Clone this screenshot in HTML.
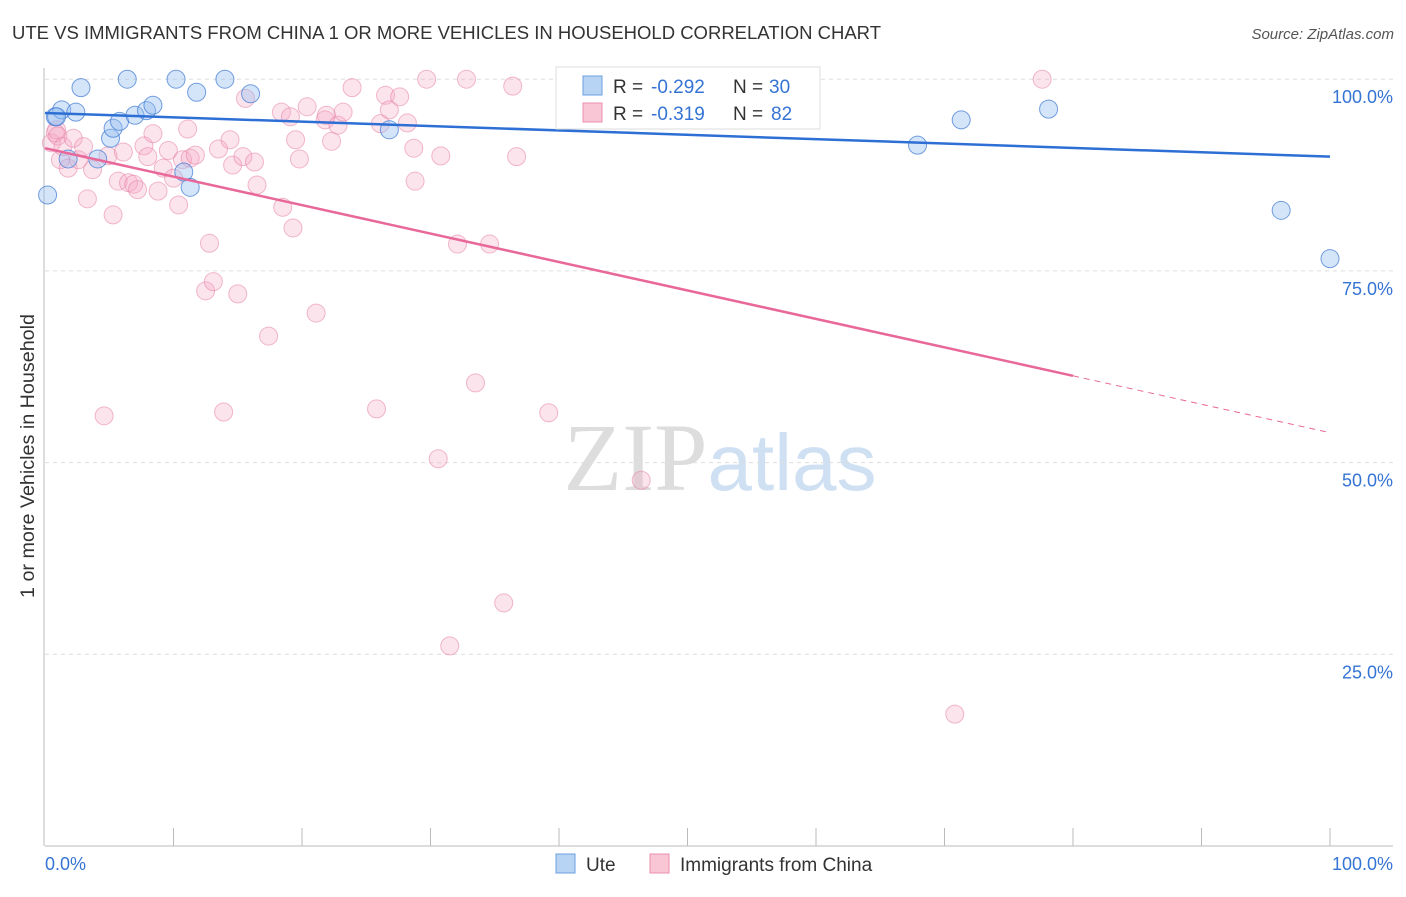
<!DOCTYPE html>
<html><head><meta charset="utf-8"><style>
body{margin:0;background:#fff;font-family:"Liberation Sans",sans-serif}
</style></head><body>
<svg id="c" width="1406" height="892" xmlns="http://www.w3.org/2000/svg" font-family="Liberation Sans, sans-serif">
<text x="12" y="39" font-size="18" fill="#333" textLength="869" lengthAdjust="spacingAndGlyphs">UTE VS IMMIGRANTS FROM CHINA 1 OR MORE VEHICLES IN HOUSEHOLD CORRELATION CHART</text>
<text x="1394" y="39" font-size="15" fill="#555" font-style="italic" text-anchor="end">Source: ZipAtlas.com</text>
<text x="720" y="490" font-size="96" text-anchor="middle"><tspan fill="#ddd" font-family="Liberation Serif, serif">ZIP</tspan><tspan fill="#cfe0f3" font-size="80">atlas</tspan></text>
<text transform="translate(34,456) rotate(-90)" font-size="19" fill="#333" text-anchor="middle" textLength="284" lengthAdjust="spacingAndGlyphs">1 or more Vehicles in Household</text>
<g id="axes"></g><g id="marks"></g>
<g>
<rect x="556" y="67" width="264" height="62" fill="#fff" stroke="#ddd"/>
<rect x="583" y="76" width="19" height="19" fill="#b8d4f5" stroke="#6a9fe0"/>
<text x="613" y="93" font-size="19" fill="#333">R =</text>
<text x="651" y="93" font-size="19" fill="#3574d4">-0.292</text>
<text x="733" y="93" font-size="19" fill="#333">N =</text>
<text x="769" y="93" font-size="19" fill="#3574d4">30</text>
<rect x="583" y="103" width="19" height="19" fill="#f9c6d6" stroke="#ec8fae"/>
<text x="613" y="120" font-size="19" fill="#333">R =</text>
<text x="651" y="120" font-size="19" fill="#3574d4">-0.319</text>
<text x="733" y="120" font-size="19" fill="#333">N =</text>
<text x="771" y="120" font-size="19" fill="#3574d4">82</text>
</g>
<g>
<rect x="556" y="854" width="19" height="19" fill="#b8d4f5" stroke="#6a9fe0"/>
<text x="586" y="871" font-size="19" fill="#333">Ute</text>
<rect x="650" y="854" width="19" height="19" fill="#f9c6d6" stroke="#ec8fae"/>
<text x="680" y="871" font-size="19" fill="#333">Immigrants from China</text>
</g>
</svg>
<script>
const yTicks=[25,50,75,100];
const yTickLabels=["25.0%","50.0%","75.0%","100.0%"];
const uteX=[0.2,0.8,1.3,1.8,2.4,2.8,4.1,5.1,5.3,5.8,6.4,7.0,7.9,8.4,10.2,10.8,11.3,11.8,14.0,16.0,26.8,42.6,52.5,56.7,67.9,71.3,78.1,96.2,100,0.9];
const uteY=[84.9,95.1,96.0,89.6,95.7,98.9,89.6,92.3,93.6,94.5,100,95.3,95.9,96.6,100,87.9,85.9,98.3,100,98.1,93.4,99.6,100,100,91.4,94.7,96.1,82.9,76.6,95.1];
const chinaX=[0.5,0.8,0.9,1.0,1.2,1.4,1.8,2.2,2.6,3.0,3.3,3.7,4.6,4.9,5.3,5.7,6.1,6.5,6.9,7.2,7.7,8.0,8.4,8.8,9.2,9.6,10.0,10.4,10.7,11.1,11.3,11.7,12.5,12.8,13.1,13.5,13.9,14.4,14.6,15.0,15.4,15.6,16.3,16.5,17.4,18.4,18.5,19.1,19.3,19.5,19.8,20.4,21.1,21.8,21.9,22.3,22.8,23.2,23.9,25.8,26.1,26.5,26.8,27.6,28.2,28.7,28.8,29.7,30.6,30.8,31.5,32.1,32.8,33.5,34.6,35.7,36.4,36.7,39.2,40.9,46.4,70.8,77.6];
const chinaY=[91.7,93.0,93.4,92.6,89.5,91.2,88.4,92.3,89.5,91.2,84.4,88.2,56.1,90.0,82.3,86.7,90.5,86.5,86.3,85.6,91.3,89.9,92.9,85.4,88.4,90.7,87.1,83.6,89.5,93.5,89.7,90.1,72.4,78.6,73.6,90.9,56.6,92.1,88.8,72.0,89.9,97.5,89.2,86.2,66.5,95.7,83.3,95.1,80.6,92.1,89.6,96.4,69.5,94.7,95.3,91.9,94.0,95.7,98.9,57.0,94.2,97.9,96.0,97.7,94.3,91.0,86.7,100,50.5,90.0,26.1,78.5,100,60.4,78.5,31.7,99.1,89.9,56.5,100,47.7,17.2,100];
const uteTrend=[95.6,89.9];
const chinaTrend=[91.0,53.9];
const chinaSolidEnd=80;
const NS="http://www.w3.org/2000/svg";
const sx=v=>45+v*12.85, sy=v=>846-v*7.668;
function mk(t,a,p){const e=document.createElementNS(NS,t);for(const k in a)e.setAttribute(k,a[k]);p.appendChild(e);return e;}
const ax=document.getElementById('axes'), mg=document.getElementById('marks');
yTicks.forEach((t,i)=>{
 const g=mk('line',{x1:45,x2:1393,y1:sy(t),y2:sy(t),stroke:'#ddd','stroke-dasharray':'4,4'},ax);
 
 
 const l=mk('text',{x:1393,y:sy(t)+24,'font-size':18,fill:'#3574d4','text-anchor':'end'},ax);
 l.textContent=yTickLabels[i];
 
 
});
const xa=mk('line',{x1:45,x2:1393,y1:846,y2:846,stroke:'#bbb'},ax);


const ya=mk('line',{x1:44,x2:44,y1:68,y2:846,stroke:'#bbb'},ax);


for(let i=1;i<=10;i++){const t=mk('line',{x1:sx(i*10),x2:sx(i*10),y1:828,y2:846,stroke:'#bbb'},ax);
 
 }
const x0=mk('text',{x:45,y:870,'font-size':18,fill:'#3574d4'},ax);x0.textContent='0.0%';


const x1=mk('text',{x:1393,y:870,'font-size':18,fill:'#3574d4','text-anchor':'end'},ax);x1.textContent='100.0%';


chinaX.forEach((v,i)=>{const c=mk('circle',{cx:sx(v),cy:sy(chinaY[i]),r:9,fill:'rgba(245,165,195,0.3)',stroke:'rgba(230,130,165,0.55)'},mg);
 
 });
uteX.forEach((v,i)=>{const c=mk('circle',{cx:sx(v),cy:sy(uteY[i]),r:9,fill:'rgba(150,190,240,0.4)',stroke:'rgba(60,120,210,0.7)'},mg);
 
 });
const ut=mk('line',{x1:sx(0),y1:sy(uteTrend[0]),x2:sx(100),y2:sy(uteTrend[1]),stroke:'#2d6fd4','stroke-width':2.5},mg);


const cy=v=>chinaTrend[0]+(chinaTrend[1]-chinaTrend[0])*v/100;
const ct=mk('line',{x1:sx(0),y1:sy(cy(0)),x2:sx(chinaSolidEnd),y2:sy(cy(chinaSolidEnd)),stroke:'#e8689a','stroke-width':2.5},mg);


const cd=mk('line',{x1:sx(chinaSolidEnd),y1:sy(cy(chinaSolidEnd)),x2:sx(100),y2:sy(cy(100)),stroke:'#e8689a','stroke-width':1,'stroke-dasharray':'6,5'},mg);


</script>
</body></html>
